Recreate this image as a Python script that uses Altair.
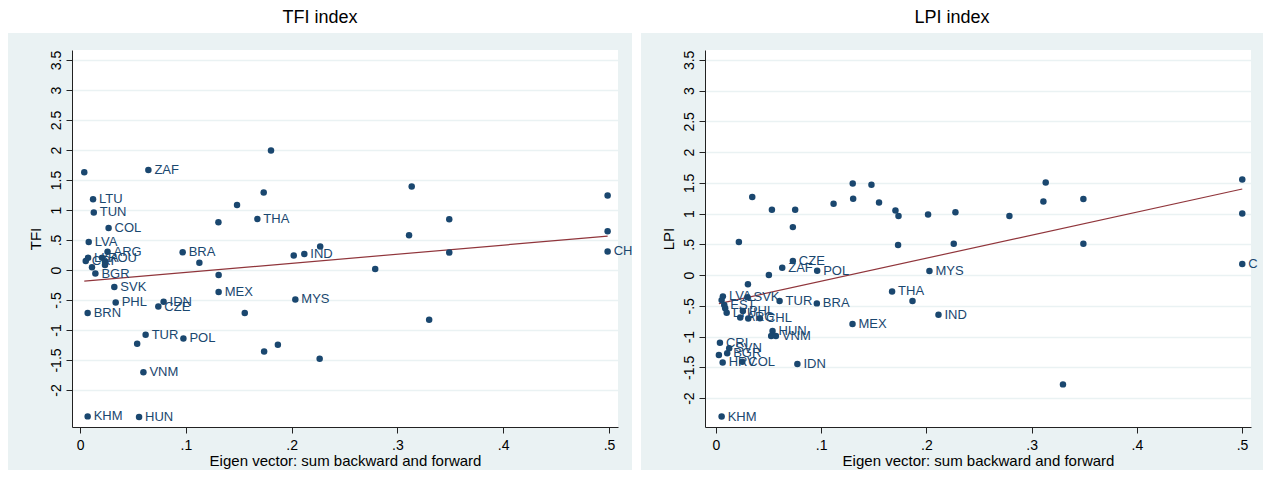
import altair as alt
import pandas as pd

# ---- TFI panel: eigenvector centrality vs TFI score ----
tfi_x = [0.004, 0.0646, 0.0123, 0.013, 0.027, 0.0082, 0.026, 0.0076, 0.0054, 0.0208,
         0.0236, 0.0236, 0.0113, 0.0145, 0.0324, 0.0337, 0.0072, 0.079, 0.074, 0.097,
         0.1128, 0.1308, 0.1484, 0.1676, 0.131, 0.131, 0.1557, 0.1805, 0.1736, 0.202,
         0.212, 0.227, 0.2035, 0.0977, 0.062, 0.174, 0.187, 0.2265, 0.3135, 0.311,
         0.349, 0.349, 0.279, 0.330, 0.4987, 0.4987, 0.4987, 0.054, 0.0599, 0.0072,
         0.0558]
tfi_y = [1.63, 1.667, 1.18, 0.96, 0.70, 0.467, 0.305, 0.205, 0.15, 0.205,
         0.14, 0.085, 0.044, -0.06, -0.283, -0.54, -0.717, -0.53, -0.61, 0.295,
         0.122, 0.795, 1.083, 0.85, -0.083, -0.367, -0.717, 1.99, 1.29, 0.24,
         0.267, 0.39, -0.49, -1.14, -1.08, -1.36, -1.245, -1.48, 1.39, 0.578,
         0.845, 0.29, 0.017, -0.83, 1.24, 0.645, 0.31, -1.23, -1.705, -2.44,
         -2.45]
tfi_code = ["", "ZAF", "LTU", "TUN", "COL", "LVA", "ARG", "LKA", "CRI", "ROU",
            "", "", "", "BGR", "SVK", "PHL", "BRN", "IDN", "CZE", "BRA",
            "", "", "", "THA", "", "MEX", "", "", "", "",
            "IND", "", "MYS", "POL", "TUR", "", "", "", "", "",
            "", "", "", "", "", "", "CHN", "", "VNM", "KHM",
            "HUN"]

# ---- LPI panel: eigenvector centrality vs LPI score ----
lpi_x = [0.0345, 0.0218, 0.0532, 0.0753, 0.0731, 0.1118, 0.130, 0.1304, 0.1478, 0.155,
         0.1706, 0.1735, 0.1731, 0.2016, 0.0731, 0.063, 0.0503, 0.0962, 0.0304, 0.2029,
         0.1674, 0.1868, 0.0066, 0.030, 0.0605, 0.0959, 0.1298, 0.0054, 0.0079, 0.0088,
         0.0102, 0.0256, 0.0231, 0.0307, 0.0418, 0.0538, 0.0525, 0.057, 0.0038, 0.0126,
         0.0107, 0.0028, 0.0064, 0.025, 0.0774, 0.0054, 0.2276, 0.2789, 0.3134, 0.3112,
         0.3492, 0.226, 0.3492, 0.2115, 0.3298, 0.5002, 0.5002, 0.5002]
lpi_y = [1.268, 0.537, 1.062, 1.062, 0.78, 1.16, 1.49, 1.24, 1.47, 1.18,
         1.05, 0.96, 0.49, 0.987, 0.228, 0.12, 0.0, 0.07, -0.15, 0.065,
         -0.265, -0.42, -0.346, -0.36, -0.423, -0.46, -0.797, -0.407, -0.488, -0.54,
         -0.613, -0.585, -0.688, -0.705, -0.70, -0.91, -0.99, -0.99, -1.10, -1.19,
         -1.27, -1.30, -1.42, -1.41, -1.447, -2.30, 1.02, 0.96, 1.507, 1.198,
         1.236, 0.509, 0.509, -0.645, -1.777, 1.556, 1.003, 0.179]
lpi_code = ["", "", "", "", "", "", "", "", "", "",
            "", "", "", "", "CZE", "ZAF", "", "POL", "", "MYS",
            "THA", "", "LVA", "SVK", "TUR", "BRA", "MEX", "", "EST", "",
            "LTU", "PHL", "ARG", "", "CHL", "HUN", "", "VNM", "CRI", "SVN",
            "BGR", "", "HRV", "COL", "IDN", "KHM", "", "", "", "",
            "", "", "", "IND", "", "", "", "CHN"]

x_ticks = [0, 0.1, 0.2, 0.3, 0.4, 0.5]
y_ticks = [-2, -1.5, -1, -0.5, 0, 0.5, 1, 1.5, 2, 2.5, 3, 3.5]

NAVY = "#1a476f"
MAROON = "#90353b"
PANEL_BG = "#eaf2f3"
FONT = "Liberation Sans"
W, H = 546, 377

# Stata-style tick labels: ".5" instead of "0.5"
STATA_LABEL = "replace(toString(datum.value), '0.', '.')"

one_row = pd.DataFrame({"k": [0]})


def strip(x0, x1, y0, y1, color="white"):
    return alt.Chart(one_row).mark_rect(color=color).encode(
        x=alt.value(x0), x2=alt.value(x1), y=alt.value(y0), y2=alt.value(y1)
    )


def panel(xs, ys, codes, title, ytitle, xdom, ydom, covers, title_x, edge_limit):
    df = pd.DataFrame({"x": xs, "y": ys, "code": codes})
    base = alt.Chart(df)
    x_enc = alt.X(
        "x:Q",
        scale=alt.Scale(domain=xdom, nice=False, zero=False),
        axis=alt.Axis(
            values=x_ticks, labelExpr=STATA_LABEL, grid=False,
            title="Eigen vector: sum backward and forward",
            titleFontSize=15, titleFontWeight="normal", titlePadding=1,
            labelFontSize=14, labelPadding=5, tickSize=6,
        ),
    )
    y_enc = alt.Y(
        "y:Q",
        scale=alt.Scale(domain=ydom, nice=False, zero=False),
        axis=alt.Axis(
            values=y_ticks, labelExpr=STATA_LABEL, grid=True,
            gridColor=PANEL_BG, gridWidth=1.5,
            labelAngle=270, labelAlign="center", labelBaseline="bottom",
            labelFontSize=14, labelPadding=3, tickSize=6,
            title=ytitle, titleFontSize=15, titleFontWeight="normal", titlePadding=6,
        ),
    )
    fit = base.transform_regression("x", "y").mark_line(
        color=MAROON, strokeWidth=1.2
    ).encode(x=x_enc, y=y_enc)
    pts = base.mark_circle(size=42, opacity=1, color=NAVY).encode(x=x_enc, y=y_enc)
    text_style = dict(align="left", baseline="middle", dx=6, fontSize=13, font=FONT, color=NAVY)
    labels = base.transform_filter("datum.code != '' && datum.x < 0.45").mark_text(
        **text_style
    ).encode(x=x_enc, y=y_enc, text="code:N")
    # labels at the right edge run off the panel and are cut there
    edge_labels = base.transform_filter("datum.code != '' && datum.x >= 0.45").mark_text(
        limit=edge_limit, ellipsis="\u200b", **text_style
    ).encode(x=x_enc, y=y_enc, text="code:N")
    head = alt.Chart(one_row).mark_text(
        fontSize=18, font=FONT, color="black", align="center", baseline="middle"
    ).encode(x=alt.value(title_x), y=alt.value(-32), text=alt.value(title))
    return alt.layer(*covers, fit, pts, labels, edge_labels, head).properties(width=W, height=H)


left = panel(
    tfi_x, tfi_y, tfi_code, "TFI index", "TFI",
    [-0.0076, 0.5085], [-2.617, 3.667],
    [strip(-72, 569, -50, -17), strip(-72, -64, -50, 432), strip(-72, 569, 420, 432)],
    248, 19,
)
right = panel(
    lpi_x, lpi_y, lpi_code, "LPI index", "LPI",
    [-0.0104, 0.5085], [-2.47, 3.66],
    [strip(-73, 558, -50, -17), strip(-73, -64, -50, 432), strip(-73, 558, 420, 432),
     strip(-64, -52, -17, 420, PANEL_BG)],
    247, 13,
)

chart = (
    alt.hconcat(left, right, spacing=87, bounds="flush")
    .properties(background=PANEL_BG, padding=0)
    .configure_view(fill="white", strokeWidth=0)
    .configure_axis(
        labelFont=FONT, titleFont=FONT, labelColor="black", titleColor="black",
        domainColor="#222222", tickColor="#222222", domainWidth=1, tickWidth=1,
    )
)

chart.save("out.html", embed_options={"renderer": "svg", "actions": False})
